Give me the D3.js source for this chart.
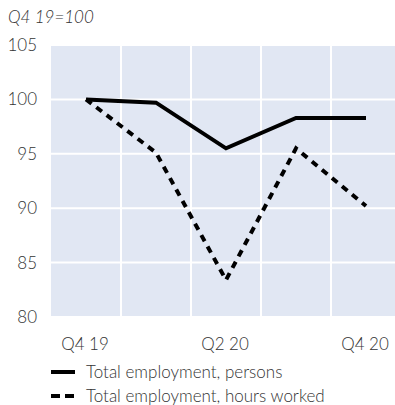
<!DOCTYPE html>
<html><head><meta charset="utf-8">
<script src="https://cdn.jsdelivr.net/npm/d3@7"></script>
<style>body{margin:0;background:#fff;} svg{display:block;font-family:Lato,"Open Sans",sans-serif;}</style>
</head><body><svg id="c" width="395" height="405"></svg>
<script>
const categories = ["Q4 19","Q1 20","Q2 20","Q3 20","Q4 20"];
const tickLabels = ["Q4 19","Q2 20","Q4 20"];
const persons = [100, 99.7, 95.5, 98.3, 98.3];
const hours = [100, 95.1, 83.4, 95.5, 90.2];
const yTicks = [80,85,90,95,100,105];
const seriesNames = ["Total employment, persons","Total employment, hours worked"];

const svg = d3.select("#c");
const x = d3.scaleBand().domain(categories).range([51,401]);
const y = d3.scaleLinear().domain([80,105]).range([317,45]);

svg.append("rect").attr("x",51).attr("y",45).attr("width",350).attr("height",272).attr("fill","#e1e7f3");
svg.append("g").selectAll("line").data(yTicks).join("line")
  .attr("x1",51).attr("x2",401).attr("y1",d=>y(d)).attr("y2",d=>y(d))
  .attr("stroke","#fff").attr("stroke-width",2);
svg.append("g").selectAll("line").data(categories.slice(1)).join("line")
  .attr("x1",d=>x(d)).attr("x2",d=>x(d)).attr("y1",45).attr("y2",317)
  .attr("stroke","#fff").attr("stroke-width",2);

svg.append("g").selectAll("text").data(yTicks).join("text")
  .attr("x",37).attr("y",d=>y(d)+6).attr("text-anchor","end")
  .attr("font-size",17).attr("font-weight",300).attr("fill","#333").text(d=>d);
svg.append("g").selectAll("text").data(tickLabels).join("text")
  .attr("x",d=>x(d)+x.bandwidth()/2-1).attr("y",350).attr("text-anchor","middle")
  .attr("font-size",17).attr("font-weight",300).attr("fill","#333").text(d=>d);

svg.append("text").attr("x",8).attr("y",23).attr("font-size",17).attr("font-style","italic")
  .attr("font-weight",300).attr("fill","#333").text("Q4 19=100");

const line = d3.line().x((d,i)=>x(categories[i])+x.bandwidth()/2).y(d=>y(d));
svg.append("path").datum(hours).attr("d",line).attr("fill","none").attr("stroke","#000")
  .attr("stroke-width",4).attr("stroke-dasharray","7,6");
svg.append("path").datum(persons).attr("d",line).attr("fill","none").attr("stroke","#000")
  .attr("stroke-width",4);

const lg = svg.append("g");
[0,1].forEach(i=>{
  const yy = 372 + i*24;
  lg.append("line").attr("x1",51).attr("x2",75).attr("y1",yy).attr("y2",yy)
    .attr("stroke","#000").attr("stroke-width",4).attr("stroke-dasharray", i? "9,5":null);
  lg.append("text").attr("x",86).attr("y",yy+6).attr("font-size",17).attr("font-weight",300)
    .attr("fill","#333").text(seriesNames[i]);
});
</script></body></html>
